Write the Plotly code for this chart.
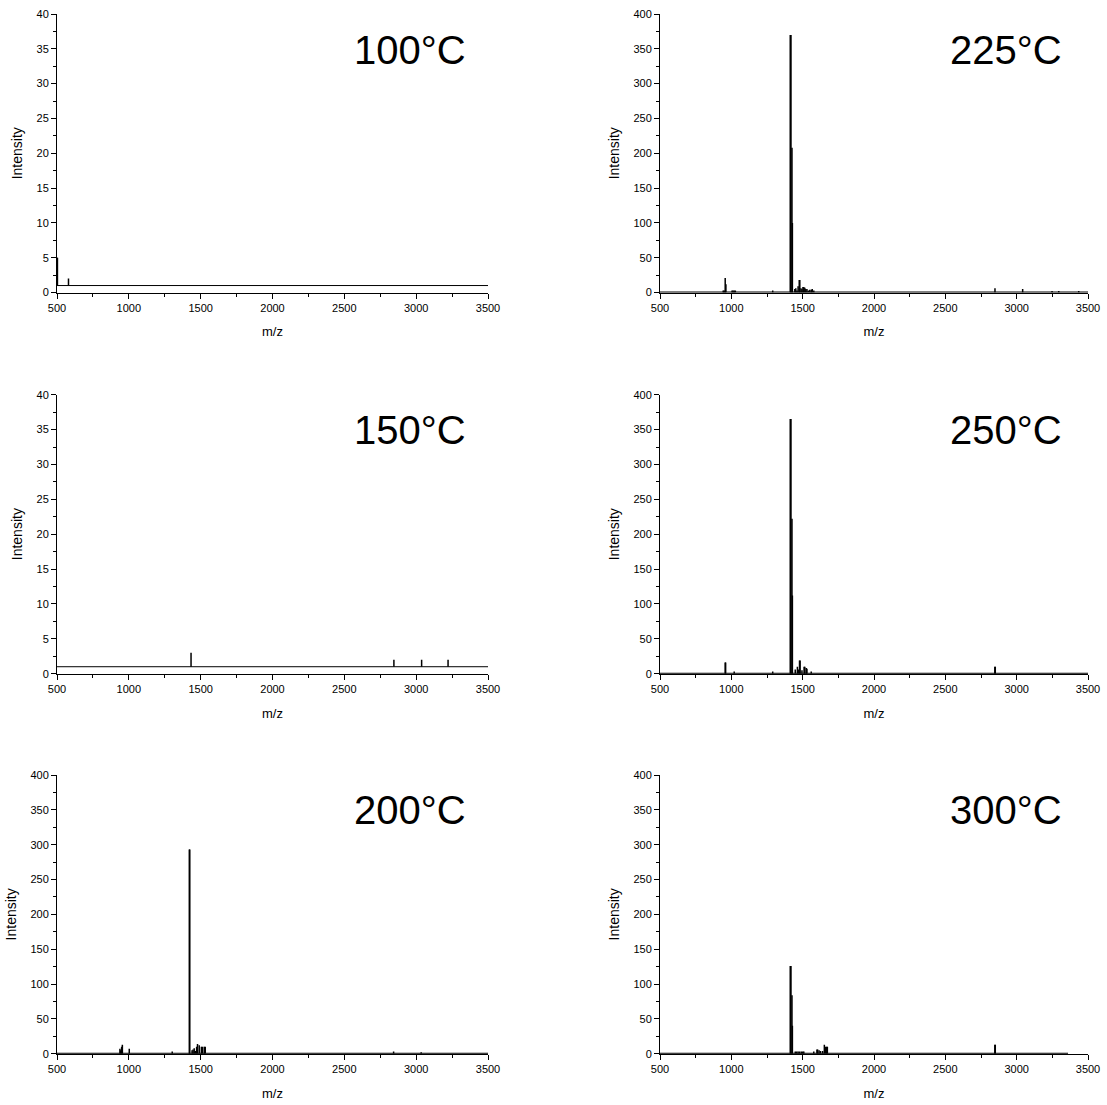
import plotly.graph_objects as go

# ---------------- data (m/z, intensity) ----------------
labels = ["100°C", "225°C", "150°C", "250°C", "200°C", "300°C"]

mz_100 = [501, 503, 580]
int_100 = [5, 5, 2]
base_100 = 1

mz_150 = [1433, 2845, 3038, 3222]
int_150 = [3, 2, 2, 2]
base_150 = 1

mz_200 = [938, 943, 950, 955, 1003, 1302, 1421, 1424, 1440, 1447, 1455, 1463, 1472, 1478, 1490, 1505, 1512, 1525, 1532, 2843, 3035]
int_200 = [7, 5, 10, 13, 7, 3, 293, 293, 5, 6, 8, 4, 10, 14, 12, 10, 10, 10, 10, 3, 2]

mz_225 = [943, 950, 957, 962, 1005, 1012, 1020, 1028, 1290, 1413, 1418, 1425, 1428, 1445, 1452, 1460, 1468, 1476, 1480,
          1488, 1495, 1502, 1508, 1515, 1522, 1530, 1540, 1550, 1560, 1567, 1578, 2848, 3042, 3248, 3295, 3435]
int_225 = [3, 3, 21, 12, 3, 3, 3, 3, 3, 370, 370, 208, 100, 5, 6, 3, 9, 18, 18,
           6, 5, 8, 8, 7, 5, 5, 3, 4, 4, 5, 3, 6, 5, 2, 2, 2]

mz_250 = [957, 960, 1020, 1290, 1413, 1418, 1425, 1428, 1448, 1463, 1470, 1478, 1482, 1495, 1510, 1515, 1525, 1530, 1560, 2847, 2850]
int_250 = [16, 16, 3, 3, 365, 365, 222, 112, 6, 10, 6, 19, 19, 5, 10, 10, 8, 7, 3, 10, 10]

mz_300 = [1413, 1418, 1425, 1428, 1448, 1458, 1468, 1478, 1490, 1500, 1508, 1578, 1600, 1605, 1615, 1625, 1640, 1652, 1660, 1668, 1673, 2847, 2850]
int_300 = [126, 126, 84, 40, 3, 3, 3, 3, 3, 3, 3, 3, 6, 6, 5, 4, 4, 13, 10, 10, 10, 13, 13]

panels = [
    (mz_100, int_100, base_100, 3500, 40),
    (mz_225, int_225, 0, 3500, 400),
    (mz_150, int_150, base_150, 3500, 40),
    (mz_250, int_250, 0, 3500, 400),
    (mz_200, int_200, 0, 3500, 400),
    (mz_300, int_300, 0, 3360, 400),
]

W, H = 1107, 1105
xdom = [(57 / W, 488 / W), (660 / W, 1088 / W)]
ydom = [(1 - 292.5 / H, 1 - 14 / H), (1 - 673.7 / H, 1 - 394.7 / H), (1 - 1053.7 / H, 1 - 775 / H)]
label_y = [1 - 50 / H, 1 - 430 / H, 1 - 810 / H]
label_x = [468 / W, 1064 / W]

fig = go.Figure()
font_family = "Liberation Sans, Arial, sans-serif"
layout = dict(
    width=W, height=H, margin=dict(l=0, r=0, t=0, b=0),
    paper_bgcolor="white", plot_bgcolor="white", showlegend=False,
    font=dict(family=font_family, color="black", size=11),
    annotations=[],
)

for i, (mz, inten, base, xend, ymax) in enumerate(panels):
    row, col = divmod(i, 2)
    n = i + 1
    xa = "x" if n == 1 else f"x{n}"
    ya = "y" if n == 1 else f"y{n}"
    # baseline
    fig.add_trace(go.Scatter(x=[500, xend], y=[base, base], mode="lines",
                             line=dict(color="black", width=2 if base == 0 else 1),
                             xaxis=xa, yaxis=ya, hoverinfo="skip"))
    # sticks
    sx, sy = [], []
    for m, v in zip(mz, inten):
        sx += [m, m, None]
        sy += [base, v, None]
    fig.add_trace(go.Scatter(x=sx, y=sy, mode="lines",
                             line=dict(color="black", width=1.5),
                             xaxis=xa, yaxis=ya, hoverinfo="skip"))
    xkey = "xaxis" if n == 1 else f"xaxis{n}"
    ykey = "yaxis" if n == 1 else f"yaxis{n}"
    layout[xkey] = dict(
        domain=xdom[col], anchor=ya, range=[500, 3500], tick0=500, dtick=500,
        automargin=False,
        showline=True, linecolor="black", linewidth=1, showgrid=False, zeroline=False,
        ticks="outside", ticklen=5, tickwidth=1, tickcolor="black",
        minor=dict(ticks="outside", ticklen=3, dtick=250, tick0=500, tickcolor="black", showgrid=False),
        tickfont=dict(size=11, family=font_family),
        title=dict(text="m/z", font=dict(size=13, family=font_family), standoff=14),
    )
    layout[ykey] = dict(
        domain=ydom[row], anchor=xa, range=[0, ymax], tick0=0, dtick=ymax / 8,
        automargin=False,
        showline=True, linecolor="black", linewidth=1, showgrid=False, zeroline=False,
        ticks="outside", ticklen=5, tickwidth=1, tickcolor="black",
        minor=dict(ticks="outside", ticklen=3, dtick=ymax / 16, tick0=0, tickcolor="black", showgrid=False),
        tickfont=dict(size=11, family=font_family),
        title=dict(text="Intensity", font=dict(size=14, family=font_family), standoff=10),
    )
    layout["annotations"].append(dict(
        text=labels[i], xref="paper", yref="paper", x=label_x[col], y=label_y[row],
        xanchor="right", yanchor="middle", showarrow=False,
        font=dict(size=40, family=font_family, color="black"),
    ))

fig.update_layout(**layout)
fig.write_html("out.html")
